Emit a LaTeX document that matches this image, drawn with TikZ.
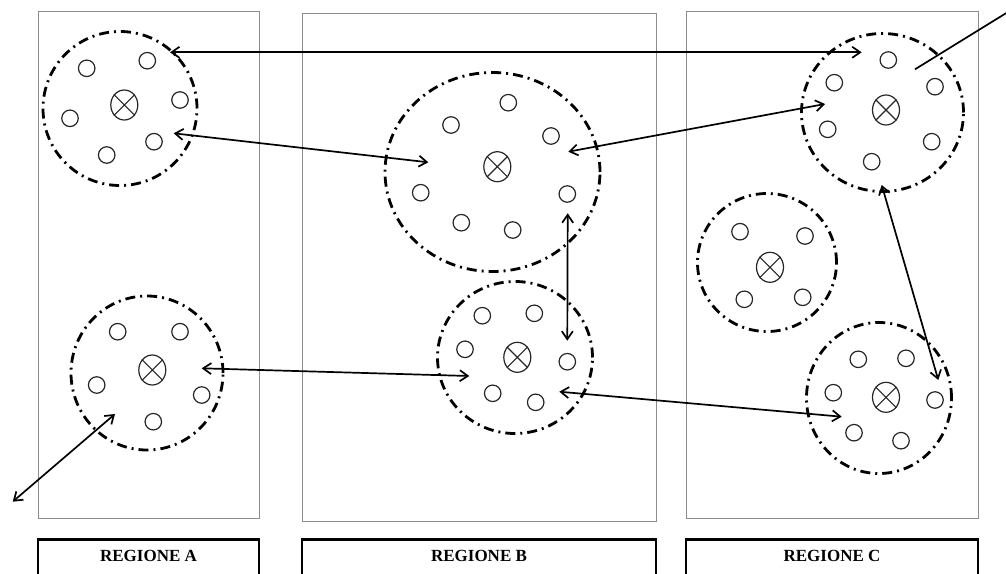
\documentclass[tikz,border=0pt]{standalone}
\usepackage{fontspec}
\setmainfont{Liberation Serif}
\usetikzlibrary{shapes.geometric,arrows.meta,calc}
\begin{document}
\begin{tikzpicture}[x=1pt,y=-1pt,
 region/.style={draw=black!45,line width=1pt,rectangle,inner sep=0pt},
 labelbox/.style={draw=black,line width=2.6pt,anchor=north,rectangle,inner xsep=0pt,inner ysep=11pt,text height=11.5pt,text depth=30pt,font=\fontsize{17}{20}\selectfont\bfseries},
 cluster/.style={ellipse,draw=black,line width=2.8pt,dash pattern=on 10pt off 5pt on 2pt off 5pt,inner sep=0pt},
 member/.style={circle,draw=black!85,line width=1.2pt,minimum size=16.5pt,inner sep=0pt},
 cross/.style={ellipse,draw=black!85,line width=1.2pt,minimum width=27pt,minimum height=30pt,inner sep=0pt},
 crossline/.style={draw=black!85,line width=1.1pt},
 link/.style={line width=1.7pt,{Straight Barb[length=8pt,width=11pt]}-{Straight Barb[length=8pt,width=11pt]}},
 plainlink/.style={line width=1.7pt}
]
\useasboundingbox (0,0) rectangle (1006,573);

% regions
\node[region,minimum width=221pt,minimum height=507pt] (rA) at (148.5,264.5) {};
\node[region,minimum width=354pt,minimum height=508pt] (rB) at (479,267) {};
\node[region,minimum width=292pt,minimum height=507pt] (rC) at (832,264.5) {};

% labels
\node[labelbox,minimum width=221pt] (lA) at (148.5,538) {REGIONE A};
\node[labelbox,minimum width=354pt] (lB) at (479,538) {REGIONE B};
\node[labelbox,minimum width=292pt] (lC) at (832,538) {REGIONE C};

% clusters
\node[cluster,minimum width=154pt,minimum height=154pt] (A1) at (120,108.5) {};
\node[cluster,minimum width=152pt,minimum height=154pt] (A2) at (147,373) {};
\node[cluster,minimum width=215pt,minimum height=199pt] (B1) at (492.5,172) {};
\node[cluster,minimum width=155pt,minimum height=152pt] (B2) at (515,357.5) {};
\node[cluster,minimum width=162pt,minimum height=158pt] (C1) at (882.5,112.5) {};
\node[cluster,minimum width=139pt,minimum height=138pt] (C2) at (767,262.5) {};
\node[cluster,minimum width=145pt,minimum height=151pt] (C3) at (879,398) {};

% centres
\foreach \n/\p in {xA1/{124.3,105},xA2/{152.3,370},xB1/{497.3,166.7},xB2/{517.3,357.3},xC1/{886,110},xC2/{770,267.3},xC3/{886,397.3}}{
  \node[cross] (\n) at (\p) {};
  \draw[crossline] (\n.45) -- (\n.225) (\n.135) -- (\n.315);
}

% members
\foreach \n/\p in {
 mA1a/{86.7,68.3},mA1b/{147.3,60.7},mA1c/{180,100},mA1d/{70,118.3},mA1e/{154,141.7},mA1f/{106.7,155},
 mA2a/{117.7,331.7},mA2b/{180,331.7},mA2c/{96.7,385},mA2d/{201.7,395},mA2e/{153.3,421.7},
 mB1a/{508.3,102.7},mB1b/{451,125},mB1c/{551,136},mB1d/{420.7,192.7},mB1e/{567.3,194},mB1f/{461.3,222.7},mB1g/{512.7,230},
 mB2a/{482.3,315.7},mB2b/{534.3,313.3},mB2c/{465,349.3},mB2d/{567.3,361.7},mB2e/{492.7,393.3},mB2f/{535.7,402.3},
 mC1a/{888.3,60},mC1b/{834.3,82.7},mC1c/{935,86.7},mC1d/{827.7,129.3},mC1e/{931.7,141.7},mC1f/{871.7,161.7},
 mC2a/{740,231.7},mC2b/{805,236},mC2c/{744.3,299.3},mC2d/{802.7,297.3},
 mC3a/{858.3,359.3},mC3b/{906,358.3},mC3c/{833.3,392.7},mC3d/{935,400},mC3e/{854,432.7},mC3f/{901,440.7}}{
  \node[member] (\n) at (\p) {};
}

% connector end points
\coordinate (eA1top) at (170,52.3);
\coordinate (eC1top) at (861.7,52.3);
\coordinate (eA1r) at (173.7,133.3);
\coordinate (eB1l) at (428.3,162.3);
\coordinate (eB1r) at (568.3,151.7);
\coordinate (eC1l) at (825,104);
\coordinate (eB1b) at (567.7,213.3);
\coordinate (eB2t) at (567.3,340.7);
\coordinate (eA2r) at (201.7,368.3);
\coordinate (eB2l) at (469.3,376);
\coordinate (eB2r) at (559.3,391.7);
\coordinate (eC3l) at (841.7,416.7);
\coordinate (eC1b) at (881.7,185);
\coordinate (eC3t) at (938.3,380);
\coordinate (eA2b) at (115,414);
\coordinate (outA) at (12.7,501.7);
\coordinate (eC1o) at (915,69.3);
\coordinate (outC) at (1012,9.5);

% connectors
\draw[link] (eA1top) -- (eC1top);
\draw[link] (eA1r) -- (eB1l);
\draw[link] (eB1r) -- (eC1l);
\draw[link] (eB1b) -- (eB2t);
\draw[link] (eA2r) -- (eB2l);
\draw[link] (eB2r) -- (eC3l);
\draw[link] (eC1b) -- (eC3t);
\draw[link] (eA2b) -- (outA);
\draw[plainlink] (eC1o) -- (outC);
\end{tikzpicture}
\end{document}
